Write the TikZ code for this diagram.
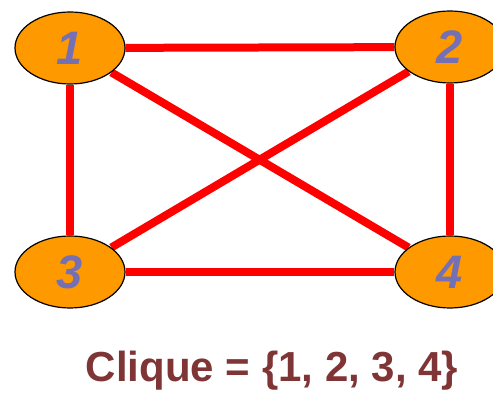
\documentclass[tikz,border=0pt]{standalone}
\usepackage{fontspec}
\setmainfont{Liberation Sans}
\usetikzlibrary{shapes.geometric,backgrounds}
\definecolor{vertexorange}{HTML}{FF9900}
\definecolor{numberblue}{HTML}{7570B3}
\definecolor{cliquebrown}{HTML}{7F3435}
\begin{document}
\begin{tikzpicture}[x=1pt,y=-1pt,
  vertex/.style={ellipse, draw=black, line width=1.2pt, fill=vertexorange,
    minimum width=110pt, minimum height=72pt, inner sep=0pt,
    font=\fontsize{47}{47}\selectfont\bfseries\itshape, text=numberblue},
  edge/.style={red, line width=8pt}]
\useasboundingbox (0,0) rectangle (493,395);
\node[vertex] (v1) at (70,48) {1};
\node[vertex] (v2) at (450,47) {2};
\node[vertex] (v3) at (70,272) {3};
\node[vertex] (v4) at (450,272) {4};
\begin{pgfonlayer}{background}
\draw[edge] (v1) -- (v2);
\draw[edge] (v1) -- (v3);
\draw[edge] (v1) -- (v4);
\draw[edge] (v2) -- (v3);
\draw[edge] (v2) -- (v4);
\draw[edge] (v3) -- (v4);
\end{pgfonlayer}
\node[font=\fontsize{42}{42}\selectfont\bfseries, text=cliquebrown] (clique) at (272,371) {Clique = \{1, 2, 3, 4\}};
\end{tikzpicture}
\end{document}
